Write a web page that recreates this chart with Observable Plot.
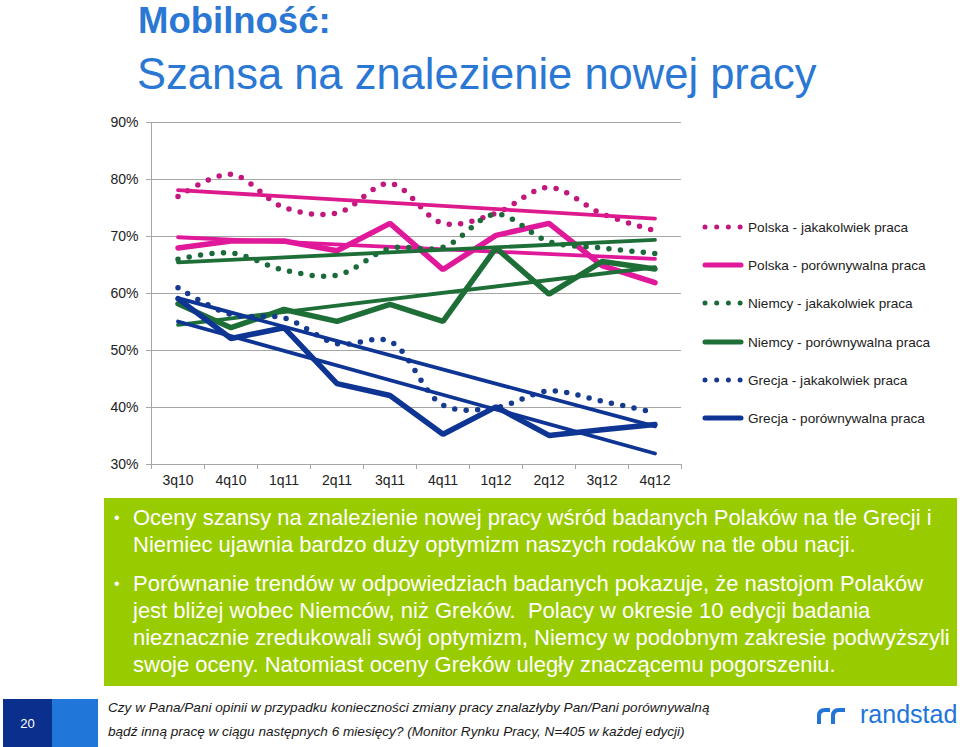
<!DOCTYPE html>
<html><head><meta charset="utf-8">
<script src="https://cdn.jsdelivr.net/npm/d3@7"></script>
<script src="https://cdn.jsdelivr.net/npm/@observablehq/plot@0.6"></script>
<style>
body{margin:0;background:#fff;font-family:"Liberation Sans",Arial,sans-serif;}
#page{position:relative;width:960px;height:747px;overflow:hidden;background:#fff;}
.abs{position:absolute;white-space:nowrap;}
#t1{left:138px;top:0px;font-size:36.5px;line-height:normal;font-weight:bold;color:#2B78D4;}
#t2{left:137px;top:50px;font-size:43.5px;line-height:normal;color:#2B78D4;}
#chart{position:absolute;left:0;top:100px;}
#legend .row{position:absolute;left:697px;height:20px;display:flex;align-items:center;font-size:13.6px;color:#222;}
#legend svg{margin-right:3px;}
#box{left:104px;top:498px;width:853px;height:188px;background:#99CC00;color:#fff;font-size:22px;line-height:27px;}
#box .p{position:relative;padding-left:29px;}
#box .p .b{position:absolute;left:10px;top:0;font-size:16px;}
#foot{left:108px;top:696px;font-size:13.6px;line-height:24px;font-style:italic;color:#1a1a1a;}
#num1{left:3px;top:699px;width:49px;height:48px;background:#0B2F8C;color:#fff;font-size:13px;display:flex;align-items:center;justify-content:center;}
#num2{left:52px;top:699px;width:46px;height:48px;background:#2176D9;}
#logo{left:860px;top:700px;font-size:25px;color:#2175D9;}
</style></head><body><div id="page">
<div class="abs" id="t1">Mobilność:</div>
<div class="abs" id="t2">Szansa na znalezienie nowej pracy</div>
<div id="chart"></div>
<div id="legend"></div>
<div class="abs" id="box">
 <div class="p" style="margin-top:6px"><span class="b">•</span>Oceny szansy na znalezienie nowej pracy wśród badanych Polaków na tle Grecji i<br>Niemiec ujawnia bardzo duży optymizm naszych rodaków na tle obu nacji.</div>
 <div class="p" style="margin-top:12px"><span class="b">•</span>Porównanie trendów w odpowiedziach badanych pokazuje, że nastojom Polaków<br>jest bliżej wobec Niemców, niż Greków.&nbsp; Polacy w okresie 10 edycji badania<br>nieznacznie zredukowali swój optymizm, Niemcy w podobnym zakresie podwyższyli<br>swoje oceny. Natomiast oceny Greków uległy znaczącemu pogorszeniu.</div>
</div>
<div class="abs" id="num1">20</div>
<div class="abs" id="num2"></div>
<div class="abs" id="foot">Czy w Pana/Pani opinii w przypadku konieczności zmiany pracy znalazłyby Pan/Pani porównywalną<br>bądź inną pracę w ciągu następnych 6 miesięcy? (Monitor Rynku Pracy, N=405 w każdej edycji)</div>
<svg class="abs" style="left:816px;top:706px" width="32" height="20" viewBox="0 0 32 20">
 <path d="M3,18 V10 Q3,4 9,4 H14" fill="none" stroke="#2175D9" stroke-width="4"/>
 <path d="M17,18 V10 Q17,4 23,4 H29" fill="none" stroke="#2175D9" stroke-width="4"/>
</svg>
<div class="abs" id="logo">randstad</div>
</div>
<script>
const quarters = ["3q10","4q10","1q11","2q11","3q11","4q11","1q12","2q12","3q12","4q12"];
const polskaJakakolwiek  = [77.0, 80.9, 75.1, 74.1, 79.3, 72.3, 74.1, 78.6, 74.0, 71.0];
const polskaPorownywalna = [68.0, 69.2, 69.2, 67.5, 72.3, 64.2, 70.2, 72.3, 64.9, 61.9];
const niemcyJakakolwiek  = [66.0, 67.1, 64.1, 63.2, 67.9, 68.1, 73.9, 69.1, 68.0, 67.0];
const niemcyPorownywalna = [58.2, 54.0, 57.2, 55.1, 58.1, 55.1, 68.0, 59.9, 65.6, 64.3];
const grecjaJakakolwiek  = [61.0, 56.3, 55.7, 51.2, 51.6, 40.4, 40.0, 42.9, 41.1, 39.1];
const grecjaPorownywalna = [59.1, 52.1, 54.0, 44.2, 42.1, 35.3, 40.1, 35.1, 36.1, 37.0];
const yTicks = [30, 40, 50, 60, 70, 80, 90];

const series = [
  {name: "Polska - jakakolwiek praca",  values: polskaJakakolwiek,  color: "#C2177D", trend: "#DC1A8E", dotted: true},
  {name: "Polska - porównywalna praca", values: polskaPorownywalna, color: "#E0189A", trend: "#E0189A", dotted: false},
  {name: "Niemcy - jakakolwiek praca",  values: niemcyJakakolwiek,  color: "#1B6A3A", trend: "#1E6E37", dotted: true},
  {name: "Niemcy - porównywalna praca", values: niemcyPorownywalna, color: "#1E6E37", trend: "#1E6E37", dotted: false},
  {name: "Grecja - jakakolwiek praca",  values: grecjaJakakolwiek,  color: "#163A90", trend: "#0E3594", dotted: true},
  {name: "Grecja - porównywalna praca", values: grecjaPorownywalna, color: "#0E3594", trend: "#0E3594", dotted: false}
];

const marks = [
  Plot.ruleY(yTicks.filter(d => d > 30), {stroke: "#a6a6a6", strokeWidth: 1}),
  Plot.ruleY([30], {stroke: "#a6a6a6", strokeWidth: 1}),
  Plot.ruleX([-0.5], {y1: 30, y2: 90, stroke: "#a6a6a6", strokeWidth: 1}),
  Plot.axisY(yTicks, {label: null, tickSize: 5, tickPadding: 8, tickFormat: d => d + "%", stroke: "#a6a6a6", fill: "#222", fontSize: 14}),
  Plot.axisX(d3.range(11).map(i => i - 0.5), {label: null, tickSize: 5, tickFormat: () => "", stroke: "#a6a6a6"}),
  Plot.axisX(d3.range(10), {label: null, tickSize: 0, tickPadding: 11, tickFormat: i => quarters[i], fill: "#222", fontSize: 14})
];
for (const s of series) {
  const data = s.values.map((v, i) => ({i, v}));
  if (s.dotted) {
    marks.push(Plot.line(data, {x: "i", y: "v", stroke: s.color, strokeWidth: 5.5, strokeDasharray: "0 11.5", strokeLinecap: "round", curve: "catmull-rom"}));
  } else {
    marks.push(Plot.line(data, {x: "i", y: "v", stroke: s.color, strokeWidth: 5.5, strokeLinejoin: "miter", strokeLinecap: "round"}));
  }
  marks.push(Plot.linearRegressionY(data, {x: "i", y: "v", stroke: s.trend, strokeWidth: 3.8, ci: 0}));
}

const chart = Plot.plot({
  width: 690, height: 400,
  marginTop: 22, marginBottom: 36, marginLeft: 151, marginRight: 9,
  x: {domain: [-0.5, 9.5], axis: null},
  y: {domain: [30, 90], axis: null},
  style: {fontFamily: "Liberation Sans, Arial, sans-serif", fontSize: "14px", background: "transparent"},
  marks
});
document.getElementById("chart").appendChild(chart);

const legend = document.getElementById("legend");
const rowY = [227, 265, 303, 342, 380, 418];
series.forEach((s, k) => {
  const row = document.createElement("div");
  row.className = "row";
  row.style.top = (rowY[k] - 10) + "px";
  const sw = s.dotted
    ? `<svg width="48" height="10"><line x1="8" y1="5" x2="45" y2="5" stroke="${s.color}" stroke-width="5" stroke-linecap="round" stroke-dasharray="0 11.7"/></svg>`
    : `<svg width="48" height="10"><line x1="8" y1="5" x2="44" y2="5" stroke="${s.color}" stroke-width="5" stroke-linecap="round"/></svg>`;
  row.innerHTML = sw + `<span>${s.name}</span>`;
  legend.appendChild(row);
});
</script>
</body></html>
